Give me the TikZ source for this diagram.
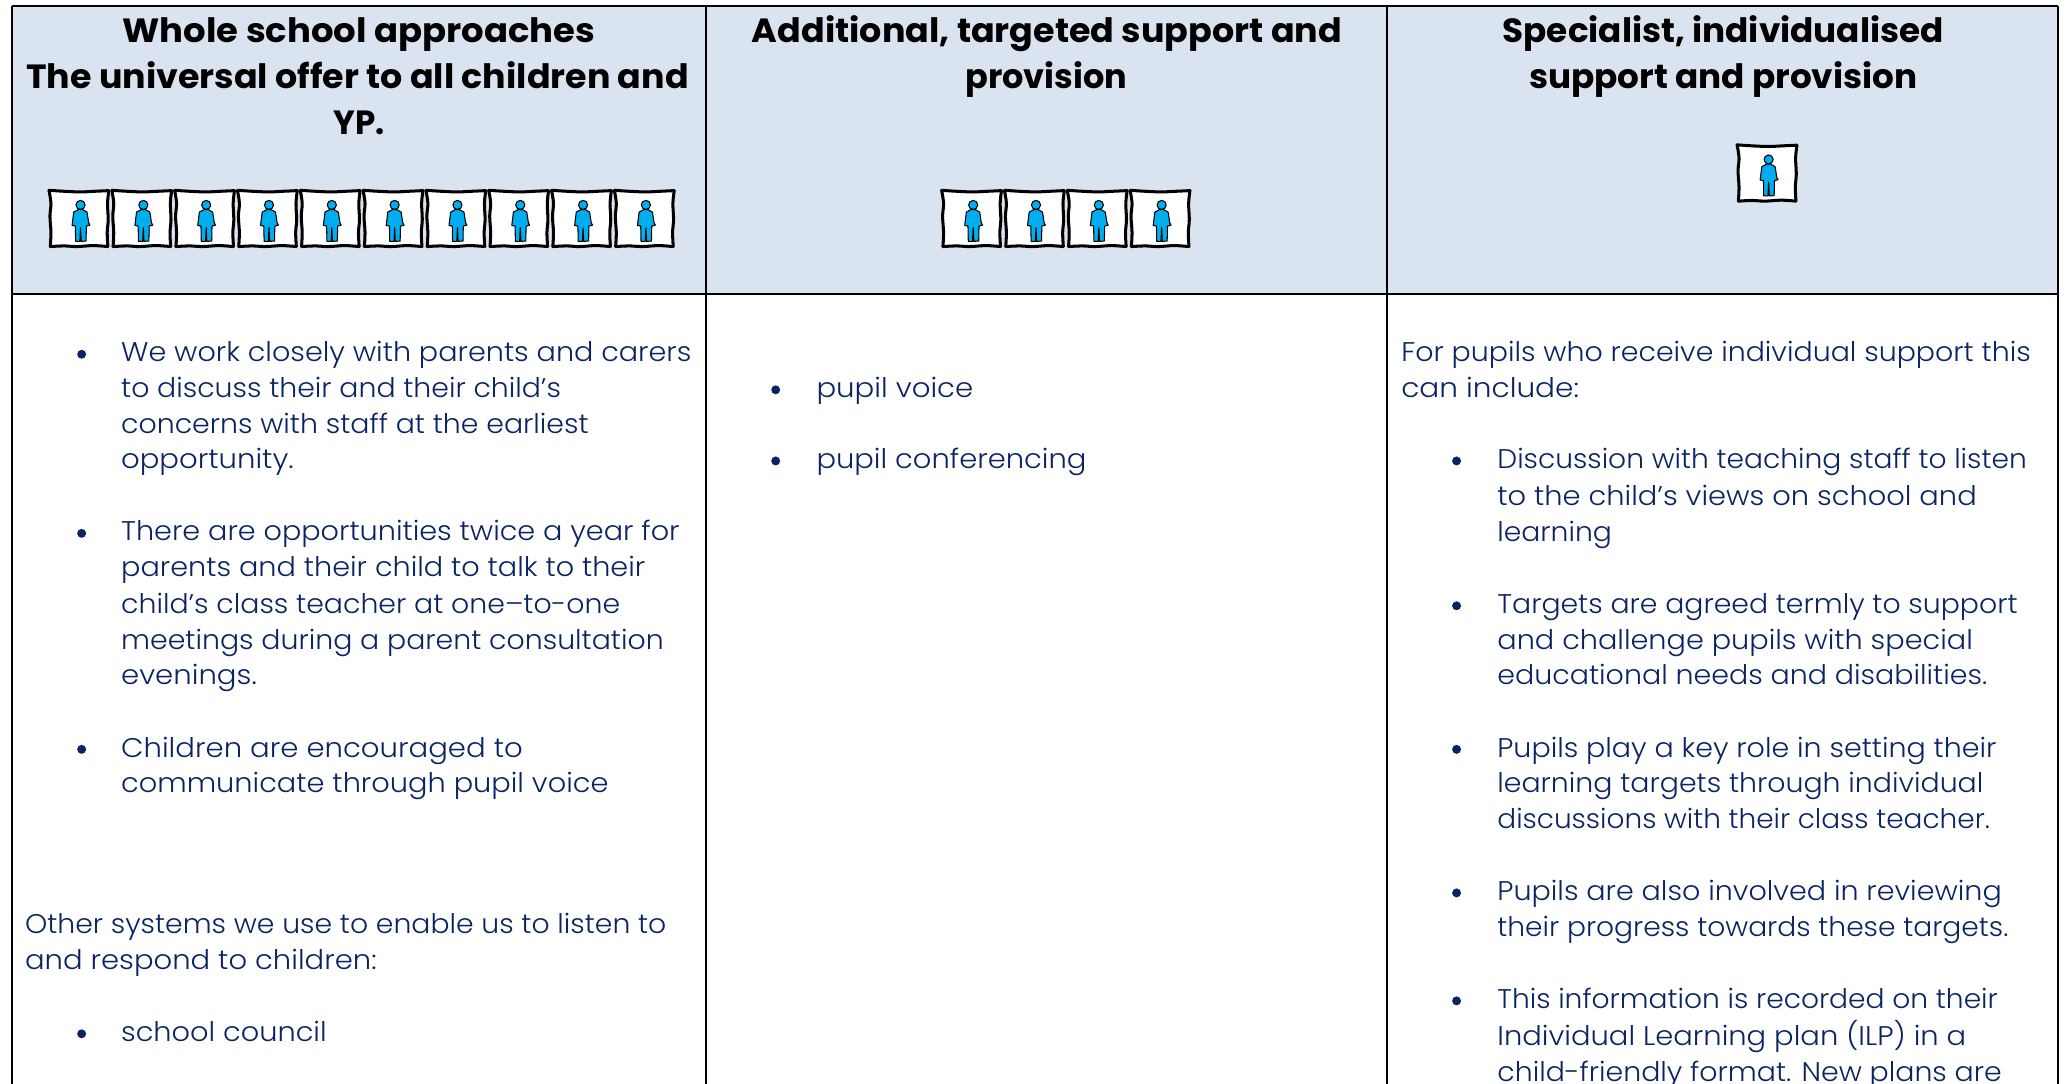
\documentclass[tikz,border=0pt]{standalone}
\usepackage{fontspec}
\usepackage{graphicx}
\setmainfont{Poppins}[UprightFont=* Light,BoldFont=* Bold]
\definecolor{headfill}{HTML}{DAE4F1}
\definecolor{navy}{HTML}{0A2463}
\definecolor{personblue}{HTML}{00AEEF}
\newsavebox\fitbox
\newcommand{\bodyfont}{\fontsize{20.5}{27}\selectfont}
\newcommand{\headfont}{\fontsize{25.5}{34}\selectfont\bfseries}
\newcommand{\fitted}[3]{%
  \sbox\fitbox{#1#3}%
  \pgfmathsetmacro\fitratio{#2/\the\wd\fitbox}%
  \scalebox{\fitratio}[1]{\usebox\fitbox}}
\newcommand{\tline}[5]{%
  \node[bodyline] (#1) at (#2,#3+8) {\fitted{\bodyfont}{(#4-#2)}{#5}};}
\newcommand{\hdline}[5]{%
  \node[headline] (#1) at (#2,#3) {\fitted{\headfont}{(#4-#2)}{#5}};}
\newcommand{\bul}[2]{\fill[navy] (#1,#2+2) circle (3.4);}
\newcommand{\tile}[2]{%
  \begin{scope}[shift={(#1,#2)},x=.247pt,y=-.247pt]
    \fill[white] (2,0) -- (186,3) -- (183,173) -- (6,173) -- cycle;
    \draw[tileline] plot[smooth,tension=.6] coordinates {(2,0) (48,3) (98,5) (143,3) (186,1)};
    \draw[tileline] plot[smooth,tension=.6] coordinates {(186,1) (182,40) (184,90) (181,130) (183,173)};
    \draw[tileline] plot[smooth,tension=.6] coordinates {(183,173) (138,170) (88,173) (48,171) (6,173)};
    \draw[tileline] plot[smooth,tension=.6] coordinates {(6,173) (8,130) (5,80) (8,40) (2,0)};
    \begin{scope}[shift={(3,0)}]
    \draw[personline] (96,45) circle (14);
    \draw[personline] (90,59) -- (102,59) -- (116,67) -- (121,100) -- (125,107) -- (114,110)
      -- (113,156) -- (98,157) -- (96,115) -- (94,157) -- (81,157) -- (80,110) -- (70,108)
      -- (75,67) -- cycle;
    \end{scope}
  \end{scope}}
\tikzset{
  bodyline/.style={anchor=base west,inner sep=0pt,outer sep=0pt,text=navy},
  headline/.style={anchor=base west,inner sep=0pt,outer sep=0pt,text=black},
  gridline/.style={draw=black,line width=1.5pt},
  tileline/.style={draw=black,line width=2.3pt,line cap=round},
  personline/.style={draw=black,line width=.8pt,fill=personblue,line join=round}
}
\begin{document}
\begin{tikzpicture}[x=1pt,y=-1pt]
\useasboundingbox (0,0) rectangle (1568,823.1);
\fill[headfill] (9,4.5) rectangle (1563,223.5);
\draw[gridline] (9,4.5) -- (1563,4.5);
\draw[gridline] (9,223.5) -- (1563,223.5);
\draw[gridline] (9,4.5) -- (9,823.1);
\draw[gridline] (536,4.5) -- (536,823.1);
\draw[gridline] (1053,4.5) -- (1053,823.1);
\draw[gridline] (1563,4.5) -- (1563,823.1);

\hdline{ha}{93}{32.4}{452}{Whole school approaches}
\hdline{hb}{20}{67}{523}{The universal offer to all children and}
\hdline{hc}{253}{102}{292}{YP.}
\hdline{hd}{571}{32.4}{1019}{Additional, targeted support and}
\hdline{he}{733}{67}{856}{provision}
\hdline{hf}{1141}{32.4}{1476}{Specialist, individualised}
\hdline{hg}{1161}{67}{1456}{support and provision}

\foreach \i in {0,...,9} {\tile{36.7+47.7*\i}{144.5}}
\foreach \i in {0,...,3} {\tile{714.5+47.7*\i}{144.5}}
\tile{1318.5}{110}

\bul{62}{267}
\tline{a1}{92}{266.5}{525}{We work closely with parents and carers}
\tline{a2}{92}{293.7}{426}{to discuss their and their child’s}
\tline{a3}{92}{320.9}{447}{concerns with staff at the earliest}
\tline{a4}{92}{348}{223}{opportunity.}
\bul{62}{403}
\tline{a5}{92}{402.5}{516}{There are opportunities twice a year for}
\tline{a6}{92}{430}{490}{parents and their child to talk to their}
\tline{a7}{92}{457.5}{471}{child’s class teacher at one–to-one}
\tline{a8}{92}{485}{504}{meetings during a parent consultation}
\tline{a9}{92}{512}{195}{evenings.}
\bul{62}{567}
\tline{a10}{92}{567}{397}{Children are encouraged to}
\tline{a11}{92}{594}{462}{communicate through pupil voice}
\tline{a12}{19}{701}{506}{Other systems we use to enable us to listen to}
\tline{a13}{19}{728}{286}{and respond to children:}
\bul{62}{783}
\tline{a14}{92}{783}{248}{school council}

\bul{589}{294}
\tline{b1}{620}{294}{739}{pupil voice}
\bul{589}{348}
\tline{b2}{620}{348}{825}{pupil conferencing}

\tline{c1}{1064}{266.5}{1542}{For pupils who receive individual support this}
\tline{c2}{1064}{294}{1199}{can include:}
\bul{1106}{348}
\tline{c3}{1137}{348}{1539}{Discussion with teaching staff to listen}
\tline{c4}{1137}{376}{1501}{to the child’s views on school and}
\tline{c5}{1137}{403}{1224}{learning}
\bul{1106}{458}
\tline{c6}{1137}{458}{1532}{Targets are agreed termly to support}
\tline{c7}{1137}{485}{1498}{and challenge pupils with special}
\tline{c8}{1137}{512}{1509}{educational needs and disabilities.}
\bul{1106}{567}
\tline{c9}{1137}{567}{1516}{Pupils play a key role in setting their}
\tline{c10}{1137}{594}{1506}{learning targets through individual}
\tline{c11}{1137}{621}{1511}{discussions with their class teacher.}
\bul{1106}{676}
\tline{c12}{1137}{676}{1520}{Pupils are also involved in reviewing}
\tline{c13}{1137}{703}{1525}{their progress towards these targets.}
\bul{1106}{758}
\tline{c14}{1137}{758}{1517}{This information is recorded on their}
\tline{c15}{1137}{786}{1493}{Individual Learning plan (ILP) in a}
\tline{c16}{1137}{813}{1520}{child-friendly format. New plans are}
\end{tikzpicture}
\end{document}
